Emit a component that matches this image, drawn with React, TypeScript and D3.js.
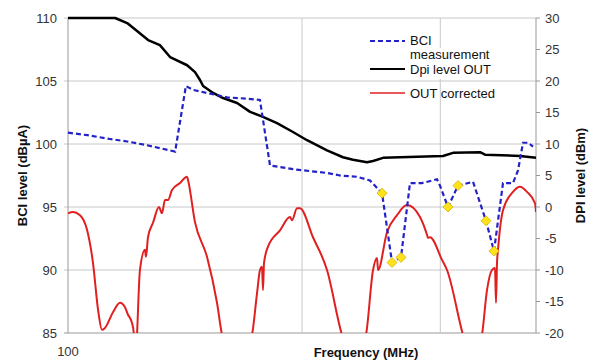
import * as React from 'react'
import * as d3 from 'd3'

// frequency (MHz) / level pairs
const dpiOut: [number, number][] = [
  [100, 30], [159, 30], [179, 29.2], [220, 26.5], [247, 25.7], [273, 23.8], [323, 22.5],
  [349, 21.4], [366, 20.2], [378, 19.2], [417, 18.1], [460, 17.3], [528, 16.5], [600, 15.1],
  [681, 14.3], [782, 13.3], [915, 11.9], [1051, 10.6], [1279, 9.0], [1497, 7.9], [1652, 7.5],
  [1896, 7.1], [2012, 7.3], [2220, 7.8], [2623, 7.9], [4006, 8.1], [4420, 8.6], [5765, 8.7],
  [6055, 8.3], [8543, 8.1], [10000, 7.8],
]

const bciMeasurement: [number, number][] = [
  [100, 100.9], [121, 100.7], [151, 100.4], [179, 100.2], [218, 99.9], [287, 99.4],
  [319, 104.6], [342, 104.3], [404, 104.0], [478, 103.7], [582, 103.6], [661, 103.5],
  [730, 98.3], [915, 98.0], [1279, 97.7], [1453, 97.5], [1718, 97.4], [1953, 97.1],
  [2198, 96.1], [2425, 90.6], [2649, 91.0], [2894, 96.9], [3257, 96.9], [3775, 97.2],
  [3888, 96.7], [4206, 95.0], [4642, 96.7], [5381, 97.0], [6114, 93.9], [6614, 91.5],
  [7227, 96.9], [7973, 96.9], [8377, 97.9], [8799, 100.1], [9244, 100.1], [9710, 99.8],
]

const bciMarkers: [number, number][] = [
  [2198, 96.1], [2425, 90.6], [2649, 91.0], [4206, 95.0], [4642, 96.7], [6114, 93.9], [6614, 91.5],
]

const outCorrected: [number, number][] = [
  [100, -1.0], [105, -0.8], [112.5, -1.3], [120.6, -3.6], [127.9, -8.9], [134.4, -16.3],
  [139.7, -19.5], [143.9, -19.2], [155.7, -16.7], [166.8, -15.2], [175.2, -15.9], [180.5, -17.1],
  [187.7, -18.4], [191.4, -20.3], [194.3, -25], [197.2, -20.3], [203, -10.0], [213.3, -6.8],
  [215.4, -7.9], [219.7, -4.8], [230.8, -2.5], [244.8, 0.0], [252.1, -1.0], [259.7, 1.1],
  [267.5, 1.1], [278.3, 2.7], [301, 3.8], [322.5, 4.8], [325.7, 4.3], [348.9, -2.4],
  [392.6, -7.9], [433.3, -15.2], [455.2, -20.3], [527.6, -26], [611.4, -20.3], [642.3, -13.7],
  [661.4, -10], [674.6, -9.5], [681.3, -13.2], [688, -8.9], [715.6, -6.3], [805.4, -3.7],
  [888.8, -1.6], [906.4, -2.1], [951.9, -0.2], [980.6, -0.2], [1114, -4.8], [1279, -10],
  [1482, -20.3], [1668, -25], [1877, -20.3], [2012, -10], [2092, -8.1], [2113, -10],
  [2308, -4.0], [2547, -1.3], [2810, 0.3], [3193, -1.6], [3421, -4.4], [3455, -4.9],
  [3524, -4.8], [3965, -8.4], [4166, -10], [4875, -20.3], [5327, -25], [5877, -20.3],
  [6174, -13.2], [6486, -10], [6680, -9.7], [6746, -15.2], [6813, -8.9], [6880, -6.8],
  [7227, -0.5], [7973, 2.4], [8543, 3.2], [9150, 2.4], [9901, 0.6], [10000, -0.8],
]

const leftTicks = [85, 90, 95, 100, 105, 110]
const rightTicks = [-20, -15, -10, -5, 0, 5, 10, 15, 20, 25, 30]
const freqGrid = [1000, 3900]

const W = 600
const H = 360
const m = { left: 68, right: 536, top: 18, bottom: 333 }
const font = 'Liberation Sans, Arial, sans-serif'

export default function App() {
  const x = d3.scaleLog().domain([100, 10000]).range([m.left, m.right])
  const yL = d3.scaleLinear().domain([85, 110]).range([m.bottom, m.top])
  const yR = d3.scaleLinear().domain([-20, 30]).range([m.bottom, m.top])

  const lineL = d3.line<[number, number]>().x(d => x(d[0])).y(d => yL(d[1]))
  const lineR = d3.line<[number, number]>().x(d => x(d[0])).y(d => yR(d[1]))
  const smoothR = d3.line<[number, number]>().x(d => x(d[0])).y(d => yR(d[1])).curve(d3.curveMonotoneX)

  const diamond = (cx: number, cy: number, r = 5) =>
    `M${cx},${cy - r}L${cx + r},${cy}L${cx},${cy + r}L${cx - r},${cy}Z`

  return (
    <svg width={W} height={H} style={{ position: 'absolute', left: 0, top: 0, background: '#fff' }}
      fontFamily={font}>
      <defs>
        <clipPath id="plot">
          <rect x={m.left} y={m.top} width={m.right - m.left} height={m.bottom - m.top} />
        </clipPath>
      </defs>

      {/* grid */}
      {leftTicks.map(t => (
        <line key={'g' + t} x1={m.left - 4} x2={m.right} y1={yL(t)} y2={yL(t)}
          stroke={t === 85 ? '#999' : '#c8c8c8'} strokeWidth={1} />
      ))}
      {freqGrid.map(f => (
        <line key={'v' + f} x1={x(f)} x2={x(f)} y1={m.top} y2={m.bottom} stroke="#c8c8c8" />
      ))}
      <line x1={m.left} x2={m.left} y1={m.top} y2={m.bottom} stroke="#999" />
      <line x1={m.right} x2={m.right} y1={m.top} y2={m.bottom} stroke="#999" />
      {rightTicks.map(t => (
        <line key={'rt' + t} x1={m.right} x2={m.right + 4} y1={yR(t)} y2={yR(t)} stroke="#999" />
      ))}

      {/* tick labels */}
      {leftTicks.map(t => (
        <text key={'l' + t} x={57} y={yL(t)} dy="0.35em" textAnchor="end" fontSize={13} fill="#333">{t}</text>
      ))}
      {rightTicks.map(t => (
        <text key={'r' + t} x={545} y={yR(t)} dy="0.35em" fontSize={13} fill="#333">{t}</text>
      ))}
      <text x={m.left} y={356} textAnchor="middle" fontSize={13} fill="#333">100</text>

      {/* axis titles */}
      <text transform={`translate(27,${(m.top + m.bottom) / 2}) rotate(-90)`} textAnchor="middle"
        fontSize={13} fontWeight="bold" fill="#111">BCI level (dBµA)</text>
      <text transform={`translate(585,${(m.top + m.bottom) / 2}) rotate(-90)`} textAnchor="middle"
        fontSize={13} fontWeight="bold" fill="#111">DPI level (dBm)</text>
      <text x={366} y={357} textAnchor="middle" fontSize={13} fontWeight="bold" fill="#111">Frequency (MHz)</text>

      {/* series */}
      <g clipPath="url(#plot)">
        <path d={smoothR(outCorrected) ?? ''} fill="none" stroke="#e02020" strokeWidth={2} strokeLinejoin="round" />
      </g>
      <path d={lineR(dpiOut) ?? ''} fill="none" stroke="#000" strokeWidth={2.5} strokeLinejoin="round" />
      <path d={lineL(bciMeasurement) ?? ''} fill="none" stroke="#2222c8" strokeWidth={2.2}
        strokeDasharray="5,3" />
      {bciMarkers.map(([f, v]) => (
        <path key={'d' + f} d={diamond(x(f), yL(v))} fill="#ffe21a" stroke="#d4b400" strokeWidth={0.8} />
      ))}

      {/* legend */}
      <rect x={405} y={48} width={100} height={31} fill="#fff" />
      <line x1={370} x2={405} y1={41} y2={41} stroke="#2222c8" strokeWidth={2} strokeDasharray="5,3" />
      <text x={410} y={45} fontSize={13} fill="#111">BCI</text>
      <text x={410} y={59} fontSize={13} fill="#111">measurement</text>
      <line x1={370} x2={405} y1={69} y2={69} stroke="#000" strokeWidth={2} />
      <text x={410} y={74} fontSize={13} fill="#111">Dpi level OUT</text>
      <line x1={370} x2={405} y1={93} y2={93} stroke="#e02020" strokeWidth={1.5} />
      <text x={410} y={98} fontSize={13} fill="#111">OUT corrected</text>
    </svg>
  )
}
